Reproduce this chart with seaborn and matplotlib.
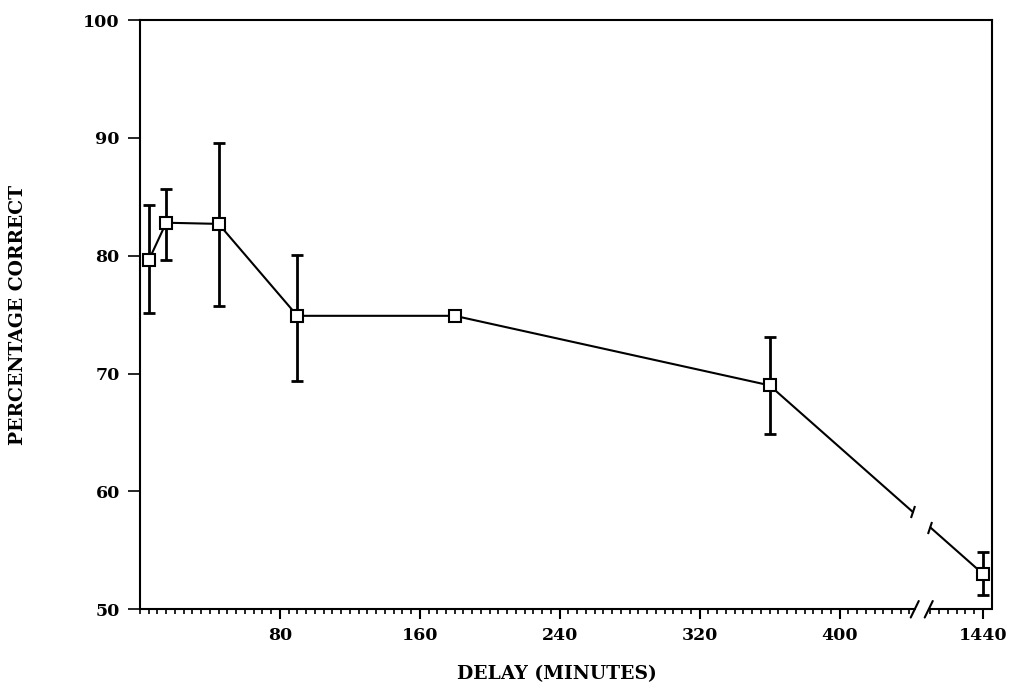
import numpy as np
import pandas as pd
import seaborn as sns
import matplotlib.pyplot as plt
from matplotlib.markers import MarkerStyle
from matplotlib.transforms import Affine2D

# Data
delay_min = [5, 15, 45, 90, 180, 360, 1440]
pct_correct = [79.6, 82.8, 82.7, 74.9, 74.9, 69.0, 53.0]
err_low = [75.1, 79.6, 75.7, 69.4, 74.9, 64.9, 51.2]
err_high = [84.3, 85.7, 89.6, 80.1, 74.9, 73.1, 54.9]
xtick_labels = ["80", "160", "240", "320", "400", "1440"]
ytick_values = [50, 60, 70, 80, 90, 100]

# broken axis: 1440 min is drawn just after the break
pos_1440 = 482
brk_lo, brk_hi = 443, 451
xpos = [d if d != 1440 else pos_1440 for d in delay_min]

df = pd.DataFrame({"pos": xpos, "pct": pct_correct})

sns.set_style("ticks")
plt.rcParams["font.family"] = ["DejaVu Serif"]
plt.rcParams["font.weight"] = "bold"
plt.rcParams["text.color"] = "black"
plt.rcParams["axes.labelcolor"] = "black"
plt.rcParams["xtick.color"] = "black"
plt.rcParams["ytick.color"] = "black"

fig = plt.figure(figsize=(10.14, 6.9), dpi=100)
ax = fig.add_axes([0.138, 0.117, 0.840, 0.854])

# line through the points before the break
sns.lineplot(data=df.iloc[:6], x="pos", y="pct", color="black", lw=1.5, ax=ax, zorder=2)

# last segment split at the axis break
x_a, x_b = xpos[5], xpos[6]
y_a, y_b = pct_correct[5], pct_correct[6]
seg1_x = [x_a, brk_lo - 1]
seg2_x = [brk_hi + 1, x_b]
seg1_y = np.interp(seg1_x, [x_a, x_b], [y_a, y_b])
seg2_y = np.interp(seg2_x, [x_a, x_b], [y_a, y_b])
ax.plot(seg1_x, seg1_y, color="black", lw=1.5, zorder=2)
ax.plot(seg2_x, seg2_y, color="black", lw=1.5, zorder=2)
slash = MarkerStyle("|", transform=Affine2D().rotate_deg(-20))
ax.plot([seg1_x[1], seg2_x[0]], [seg1_y[1], seg2_y[0]], ls="none",
        marker=slash, ms=9, mew=1.5, color="black")

# error bars
yerr = [np.array(pct_correct) - np.array(err_low), np.array(err_high) - np.array(pct_correct)]
ax.errorbar(xpos, pct_correct, yerr=yerr, fmt="none", ecolor="black",
            elinewidth=2, capsize=4.5, capthick=2, zorder=3)

# open square markers
ax.plot(xpos, pct_correct, ls="none", marker="s", ms=8.5, mfc="white",
        mec="black", mew=1.5, zorder=4)

ax.set_xlim(0, 487)
ax.set_ylim(50, 100)

ax.set_xticks([80, 160, 240, 320, 400, pos_1440])
ax.set_xticklabels(xtick_labels)
minor = list(range(0, brk_lo, 5)) + list(range(pos_1440 - 30, pos_1440 + 1, 5))
ax.set_xticks(minor, minor=True)
ax.set_yticks(ytick_values)

ax.tick_params(axis="x", which="major", direction="out", length=7, width=1.5, pad=6, labelsize=12.5)
ax.tick_params(axis="x", which="minor", direction="out", length=3.5, width=1.2)
ax.tick_params(axis="y", which="major", direction="out", length=8.5, width=1.2, pad=6, labelsize=12.5)
for lab in ax.get_xticklabels() + ax.get_yticklabels():
    lab.set_fontweight("bold")

for s in ax.spines.values():
    s.set_linewidth(1.5)
    s.set_color("black")
ax.spines["bottom"].set_visible(False)

# bottom axis drawn in two pieces with break slashes
tr = ax.get_xaxis_transform()
ax.plot([0, brk_lo], [0, 0], color="black", lw=1.5, transform=tr, clip_on=False)
ax.plot([brk_hi, 487], [0, 0], color="black", lw=1.5, transform=tr, clip_on=False)
for xb in (brk_lo, brk_hi):
    ax.plot([xb - 2.3, xb + 2.3], [-0.014, 0.014], color="black", lw=1.5,
            transform=tr, clip_on=False)

ax.set_xlabel("DELAY (MINUTES)", fontsize=13.5, fontweight="bold")
ax.set_ylabel("PERCENTAGE CORRECT", fontsize=13.5, fontweight="bold")
ax.xaxis.set_label_coords(0.49, -0.095)
ax.yaxis.set_label_coords(-0.143, 0.5)
ax.xaxis.label.set_va("top")
ax.yaxis.label.set_va("center")

fig.savefig("out.png", dpi=100)
